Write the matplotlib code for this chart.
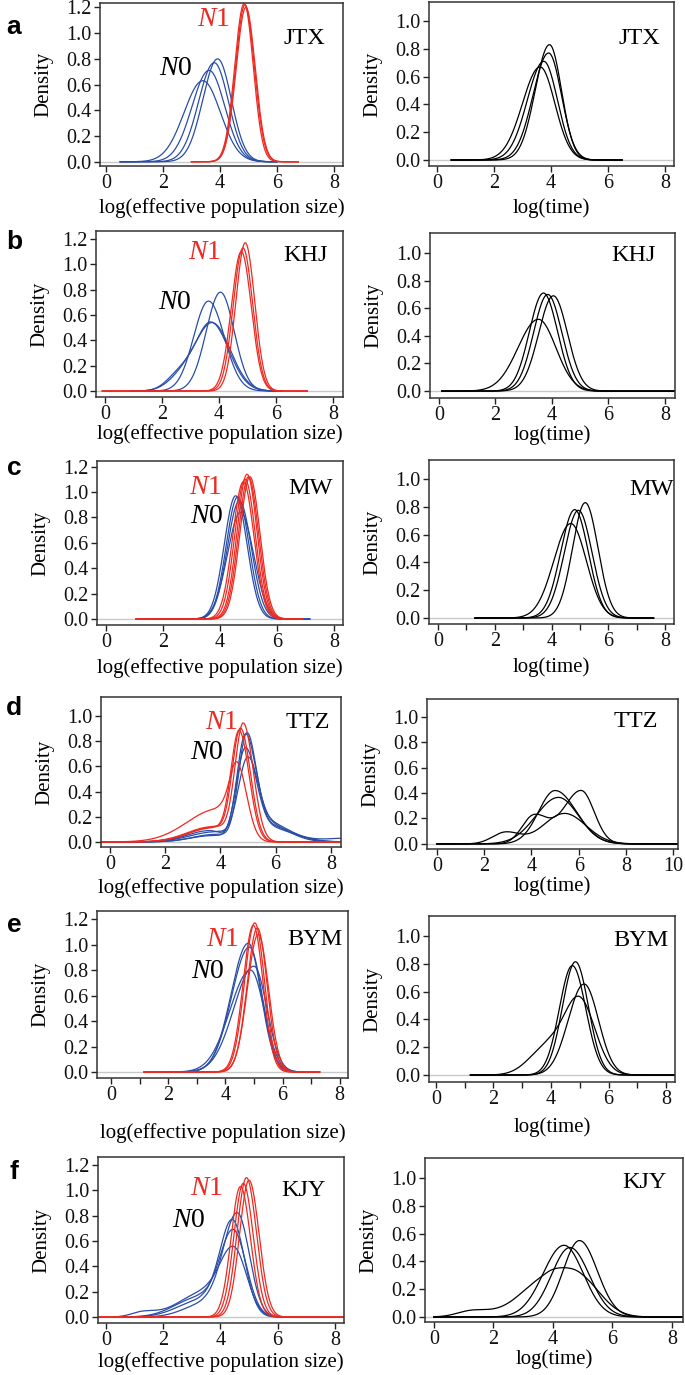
import numpy as np
import matplotlib
matplotlib.use('Agg')
import matplotlib.pyplot as plt

plt.rcParams['font.family'] = ['Liberation Serif', 'DejaVu Serif']
plt.rcParams['mathtext.fontset'] = 'custom'
plt.rcParams['mathtext.it'] = 'Liberation Serif:italic'
plt.rcParams['mathtext.rm'] = 'Liberation Serif'

# each curve: list of components (mode, height, left sd, right sd)
samples = ['JTX', 'KHJ', 'MW', 'TTZ', 'BYM', 'KJY']
letters = ['a', 'b', 'c', 'd', 'e', 'f']

# --- N0 (blue), N1 (red) curves, left column
jtx_n0 = [[(3.92, 0.80, 0.52, 0.48)], [(3.80, 0.77, 0.55, 0.50)],
          [(3.62, 0.71, 0.60, 0.55)], [(3.40, 0.63, 0.66, 0.62)]]
jtx_n1 = [[(4.85, 1.23, 0.33, 0.32)], [(4.88, 1.22, 0.33, 0.33)],
          [(4.91, 1.20, 0.34, 0.33)]]
khj_n0 = [[(4.05, 0.78, 0.50, 0.48)], [(3.63, 0.71, 0.52, 0.55)],
          [(3.72, 0.54, 0.55, 0.62), (2.60, 0.12, 0.45, 0.45)],
          [(3.78, 0.53, 0.60, 0.62), (2.70, 0.10, 0.50, 0.50)]]
khj_n1 = [[(4.92, 1.17, 0.33, 0.33)], [(4.84, 1.13, 0.34, 0.34)],
          [(4.78, 1.10, 0.35, 0.35)]]
mw_n0 = [[(4.55, 0.97, 0.40, 0.40)], [(4.62, 0.96, 0.40, 0.40)],
         [(4.68, 0.93, 0.42, 0.42)], [(4.72, 0.84, 0.46, 0.46)]]
mw_n1 = [[(4.82, 1.08, 0.37, 0.37)], [(4.88, 1.10, 0.36, 0.36)],
         [(4.95, 1.14, 0.35, 0.35)], [(5.00, 1.12, 0.35, 0.35)],
         [(5.05, 1.12, 0.35, 0.35)]]
ttz_n0 = [[(4.95, 0.82, 0.30, 0.34), (5.7, 0.13, 0.5, 0.85), (3.8, 0.06, 0.8, 0.5), (8.6, 0.03, 0.8, 0.8)],
          [(4.89, 0.77, 0.30, 0.36), (5.5, 0.17, 0.5, 0.9), (3.6, 0.09, 0.8, 0.5)],
          [(4.89, 0.70, 0.32, 0.38), (5.6, 0.12, 0.5, 0.95), (3.7, 0.05, 0.8, 0.5)],
          [(4.97, 0.60, 0.34, 0.36), (5.6, 0.15, 0.5, 0.8), (3.8, 0.08, 0.9, 0.5)]]
ttz_n1 = [[(4.83, 0.93, 0.30, 0.36), (3.8, 0.12, 0.9, 0.5)],
          [(4.73, 0.89, 0.30, 0.36), (3.7, 0.12, 0.9, 0.5)],
          [(4.68, 0.87, 0.30, 0.36), (3.7, 0.11, 0.9, 0.5)],
          [(4.62, 0.54, 0.28, 0.35), (3.9, 0.26, 1.1, 0.5)]]
bym_n0 = [[(4.80, 1.01, 0.60, 0.45)], [(4.84, 0.98, 0.62, 0.45)],
          [(5.00, 0.83, 0.70, 0.45)], [(4.88, 0.80, 0.72, 0.48)]]
bym_n1 = [[(5.03, 1.17, 0.36, 0.34)], [(4.98, 1.15, 0.36, 0.34)],
          [(5.12, 1.13, 0.36, 0.34)], [(5.15, 1.08, 0.38, 0.36)]]
kjy_n0 = [[(4.59, 0.818, 0.50, 0.42), (3.4, 0.10, 0.7, 0.5)],
          [(4.42, 0.76, 0.45, 0.42), (3.3, 0.13, 0.8, 0.5)],
          [(4.45, 0.68, 0.48, 0.45), (3.2, 0.15, 0.8, 0.55)],
          [(4.47, 0.53, 0.50, 0.45), (3.3, 0.18, 0.8, 0.6), (1.3, 0.04, 0.4, 0.5)]]
kjy_n1 = [[(4.91, 1.10, 0.33, 0.35)], [(5.00, 1.08, 0.33, 0.35)],
          [(4.80, 1.055, 0.33, 0.35)], [(4.70, 1.03, 0.33, 0.35)]]

# --- time curves, right column
jtx_t = [[(3.95, 0.83, 0.50, 0.42)], [(3.92, 0.77, 0.55, 0.45)],
         [(3.75, 0.71, 0.58, 0.48)], [(3.62, 0.67, 0.62, 0.52)]]
khj_t = [[(3.70, 0.71, 0.50, 0.50)], [(3.85, 0.70, 0.50, 0.50)],
         [(4.05, 0.69, 0.52, 0.50)], [(3.52, 0.52, 0.72, 0.62)]]
mw_t = [[(5.19, 0.83, 0.45, 0.45)], [(4.95, 0.775, 0.50, 0.48)],
        [(4.82, 0.78, 0.50, 0.48)], [(4.68, 0.68, 0.60, 0.55)]]
ttz_t = [[(5.0, 0.42, 0.70, 0.90)],
         [(6.1, 0.42, 0.75, 0.55), (4.1, 0.22, 0.5, 0.6)],
         [(5.14, 0.366, 0.95, 0.85)],
         [(5.4, 0.24, 0.9, 0.9), (2.9, 0.09, 0.55, 0.6)]]
bym_t = [[(4.85, 0.815, 0.45, 0.45)], [(4.74, 0.787, 0.45, 0.47)],
         [(5.15, 0.655, 0.55, 0.50)],
         [(4.97, 0.555, 0.55, 0.55), (3.8, 0.18, 0.6, 0.5)]]
kjy_t = [[(4.89, 0.55, 0.55, 0.60)], [(4.37, 0.516, 0.70, 0.65)],
         [(4.57, 0.50, 0.62, 0.65)],
         [(3.8, 0.27, 0.9, 0.6), (4.9, 0.27, 0.6, 0.7), (1.3, 0.045, 0.5, 0.6)]]

# x range where each density is drawn
n0_range = [(0.5, 6.0), (0.9, 6.2), (1.5, 7.15), (-0.4, 8.4), (2.0, 6.8), (0.3, 7.5)]
n1_range = [(3.0, 6.75), (-0.1, 7.1), (1.05, 6.9), (-0.4, 8.4), (1.15, 7.3), (-0.3, 8.4)]
t_range = [(0.5, 6.5), (0.1, 8.4), (1.3, 7.6), (0.0, 10.3), (1.2, 8.4), (0.0, 8.4)]

n0_all = [jtx_n0, khj_n0, mw_n0, ttz_n0, bym_n0, kjy_n0]
n1_all = [jtx_n1, khj_n1, mw_n1, ttz_n1, bym_n1, kjy_n1]
t_all = [jtx_t, khj_t, mw_t, ttz_t, bym_t, kjy_t]

# layout (pixels: left, top, right, bottom)
boxL = [(100, 3, 343, 166), (96, 231, 343, 397), (97, 461, 343, 625),
        (101, 697, 341, 847), (97, 911, 348, 1078), (98, 1157, 344, 1323)]
boxR = [(429, 2, 674, 166), (430, 233, 675, 398), (429, 460, 674, 624),
        (427, 699, 678, 849), (429, 916, 675, 1082), (425, 1158, 683, 1322)]
xlimL = [(-0.21, 8.32), (-0.32, 8.35), (-0.32, 8.32), (-0.33, 8.37), (-0.49, 8.29), (-0.28, 8.32)]
xlimR = [(-0.28, 8.32), (-0.32, 8.36), (-0.32, 8.32), (-0.42, 10.2), (-0.24, 8.31), (-0.30, 8.37)]
ylimL = [(-0.033, 1.234), (-0.047, 1.263), (-0.047, 1.244), (-0.04, 1.15), (-0.047, 1.263), (-0.047, 1.263)]
ylimR = [(-0.043, 1.137), (-0.05, 1.145), (-0.043, 1.137), (-0.04, 1.14), (-0.05, 1.144), (-0.036, 1.144)]
xlab_gapL = [42, 37, 43, 41, 55, 39]
xlab_gapR = [42, 37, 43, 37, 45, 37]
minorL = [False, False, False, False, True, False]
minorR = [False, False, True, False, True, False]
n1_pos = [(0.465, 0.90), (0.44, 0.87), (0.44, 0.84), (0.50, 0.83), (0.50, 0.83), (0.44, 0.81)]
n0_pos = [(0.31, 0.60), (0.32, 0.57), (0.447, 0.66), (0.44, 0.63), (0.44, 0.64), (0.37, 0.62)]
nameL_pos = [(0.84, 0.785), (0.85, 0.855), (0.866, 0.835), (0.86, 0.83), (0.87, 0.83), (0.835, 0.80)]
nameR_pos = [(0.86, 0.78), (0.83, 0.865), (0.91, 0.82), (0.83, 0.85), (0.86, 0.855), (0.85, 0.85)]
letter_y = [27, 242, 468, 708, 925, 1172]

W, H = 685, 1375
BLUE = '#2a4ea6'
RED = '#ec2a22'


def dens(x, comps):
    y = np.zeros_like(x)
    for mu, h, sl, sr in comps:
        s = np.where(x < mu, sl, sr)
        y += h * np.exp(-0.5 * ((x - mu) / s) ** 2)
    return y


def make_ax(fig, box):
    l, t, r, b = box
    return fig.add_axes([l / W, 1 - b / H, (r - l) / W, (b - t) / H])


def style(ax, xlim, ylim, yticks, xticks, minor, gap, box, xlabel):
    ax.set_xlim(*xlim)
    ax.set_ylim(*ylim)
    ax.axhline(0, color='#c8c8c8', lw=1.0, zorder=0)
    if minor:
        ax.set_xticks(np.arange(0, xticks[-1] + 1, 1))
        ax.set_xticklabels([str(v) if v % 2 == 0 else '' for v in range(0, xticks[-1] + 1)])
    else:
        ax.set_xticks(xticks)
        ax.set_xticklabels([str(v) for v in xticks])
    ax.set_yticks(yticks)
    ax.set_yticklabels(['%.1f' % v for v in yticks])
    ax.tick_params(direction='out', length=4.5, width=1.0, labelsize=14.5, pad=1.5,
                   colors='#222222', labelcolor='#111111')
    for s in ax.spines.values():
        s.set_linewidth(1.1)
        s.set_color('#333333')
    h = box[3] - box[1]
    w = box[2] - box[0]
    ax.set_xlabel(xlabel, fontsize=15)
    ax.xaxis.label.set_va('center')
    ax.xaxis.set_label_coords(0.5, -gap / h)
    ax.set_ylabel('Density', fontsize=15)
    ax.yaxis.label.set_va('center')
    ax.yaxis.set_label_coords(-56 / w, 0.5)


fig = plt.figure(figsize=(W / 100, H / 100), dpi=100)

for i in range(6):
    # left: effective population size
    ax = make_ax(fig, boxL[i])
    x0 = np.linspace(n0_range[i][0], n0_range[i][1], 600)
    x1 = np.linspace(n1_range[i][0], n1_range[i][1], 600)
    for c in n0_all[i]:
        ax.plot(x0, dens(x0, c), color=BLUE, lw=0.9)
    for c in n1_all[i]:
        ax.plot(x1, dens(x1, c), color=RED, lw=0.9)
    yt = [0.0, 0.2, 0.4, 0.6, 0.8, 1.0] if i == 3 else [0.0, 0.2, 0.4, 0.6, 0.8, 1.0, 1.2]
    style(ax, xlimL[i], ylimL[i], yt, [0, 2, 4, 6, 8], minorL[i], xlab_gapL[i], boxL[i],
          'log(effective population size)')
    ax.text(*n1_pos[i], '$N$1', transform=ax.transAxes, color=RED, fontsize=20,
            ha='center', va='center')
    ax.text(*n0_pos[i], '$N$0', transform=ax.transAxes, color='black', fontsize=20,
            ha='center', va='center')
    ax.text(*nameL_pos[i], samples[i], transform=ax.transAxes, fontsize=17.5,
            ha='center', va='center')

    # right: time
    ax = make_ax(fig, boxR[i])
    xt = np.linspace(t_range[i][0], t_range[i][1], 700)
    for c in t_all[i]:
        ax.plot(xt, dens(xt, c), color='black', lw=0.9)
    xtk = [0, 2, 4, 6, 8, 10] if i == 3 else [0, 2, 4, 6, 8]
    style(ax, xlimR[i], ylimR[i], [0.0, 0.2, 0.4, 0.6, 0.8, 1.0], xtk, minorR[i],
          xlab_gapR[i], boxR[i], 'log(time)')
    ax.text(*nameR_pos[i], samples[i], transform=ax.transAxes, fontsize=17.5,
            ha='center', va='center')

    fig.text(14 / W, 1 - letter_y[i] / H, letters[i], fontsize=19, fontweight='bold',
             family='Liberation Sans', ha='center', va='center')

fig.savefig('out.png', dpi=100)
